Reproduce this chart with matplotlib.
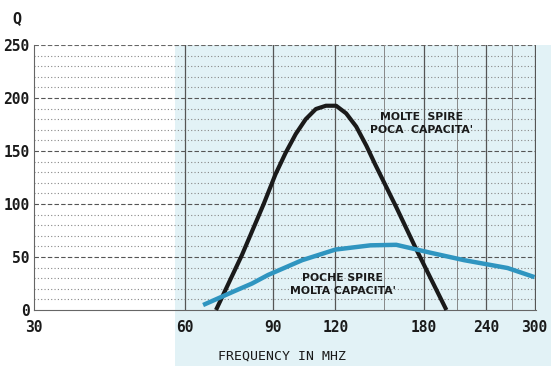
import matplotlib
matplotlib.use("Agg")
import matplotlib.pyplot as plt
from matplotlib.patches import Rectangle
import numpy as np

# Data
black_f = [69.3, 78.1, 86.3, 91.1, 95.4, 100, 104.7, 109.7, 114.9, 120.4,
           126.1, 132.1, 138.4, 143.9, 158.8, 174.2, 200]
black_q = [0, 52, 100, 128, 148, 166, 180, 189.6, 192.7, 192.7,
           185.5, 173, 155, 138, 97, 57, 0]
blue_f = [65.3, 75.6, 81.8, 88, 103, 120, 141, 158.8, 186, 217, 265, 300]
blue_q = [4.7, 18, 25, 33, 47, 57, 61, 61.5, 54, 47, 39.6, 31]
x_ticks = [30, 60, 90, 120, 180, 240, 300]
y_ticks = [0, 50, 100, 150, 200, 250]
vgrid_major = [60, 90, 120, 180, 240, 300]
vgrid_minor = [150, 210, 270]

W, H = 551, 366
fig = plt.figure(figsize=(W / 100, H / 100), dpi=100)
fig.patch.set_facecolor("white")
# light blue paper region
bg = Rectangle((175 / W, 0), 1 - 175 / W, 1 - 45 / H,
               transform=fig.transFigure, facecolor="#e2f2f6",
               edgecolor="none", zorder=-5)
fig.patches.append(bg)

ax = fig.add_axes([34 / W, 1 - 310 / H, (536 - 34) / W, (310 - 45) / H])
ax.set_zorder(5)
ax.set_facecolor("none")
ax.set_xscale("log")
ax.set_xlim(30, 302)
ax.set_ylim(0, 250)

# horizontal grid
for q in range(10, 250, 10):
    if q % 50 == 0:
        ax.axhline(q, color="#555555", lw=0.8, ls=(0, (4, 2)), zorder=1)
    else:
        ax.axhline(q, color="#888888", lw=0.8, ls=(0, (1, 2)), zorder=1)
ax.axhline(250, color="#666666", lw=0.8, ls=(0, (4, 2)), zorder=1)
for f in vgrid_major:
    ax.axvline(f, color="#555555", lw=0.9, zorder=1)
for f in vgrid_minor:
    ax.axvline(f, color="#888888", lw=0.7, zorder=1)

ax.plot(black_f, black_q, color="#1a1a1a", lw=3, solid_capstyle="butt",
        solid_joinstyle="round", zorder=3, clip_on=False)
ax.plot(blue_f, blue_q, color="#2f95c0", lw=3.2, solid_capstyle="butt",
        solid_joinstyle="round", zorder=3)

for s in ["top", "right"]:
    ax.spines[s].set_visible(False)
ax.spines["left"].set_color("#666666")
ax.spines["bottom"].set_color("#666666")

mono = dict(family="DejaVu Sans Mono", weight="bold", size=10.5, color="#1a1a1a")
ax.set_xticks(x_ticks)
ax.set_xticklabels([str(v) for v in x_ticks], **mono)
ax.xaxis.set_minor_locator(matplotlib.ticker.NullLocator())
ax.set_yticks(y_ticks)
ax.set_yticklabels([str(v) for v in y_ticks], **mono)
ax.tick_params(axis="both", length=0, pad=3)
ax.tick_params(axis="x", pad=7)

ax.text(178, 176, "MOLTE  SPIRE\nPOCA  CAPACITA'", ha="center", va="center",
        fontsize=7.8, weight="bold", family="DejaVu Sans", color="#1a1a1a",
        linespacing=1.3, zorder=4)
ax.text(124, 24, "POCHE SPIRE\nMOLTA CAPACITA'", ha="center", va="center",
        fontsize=7.8, weight="bold", family="DejaVu Sans", color="#1a1a1a",
        linespacing=1.3, zorder=4)

fig.text(282 / W, 1 - 356 / H, "FREQUENCY IN MHZ", ha="center", va="center",
         family="DejaVu Sans Mono", size=9.5, color="#1a1a1a", zorder=6)
fig.text(17 / W, 1 - 19 / H, "Q", ha="center", va="center",
         family="DejaVu Sans Mono", weight="bold", size=11, color="#1a1a1a")

fig.savefig("out.png", dpi=100)
